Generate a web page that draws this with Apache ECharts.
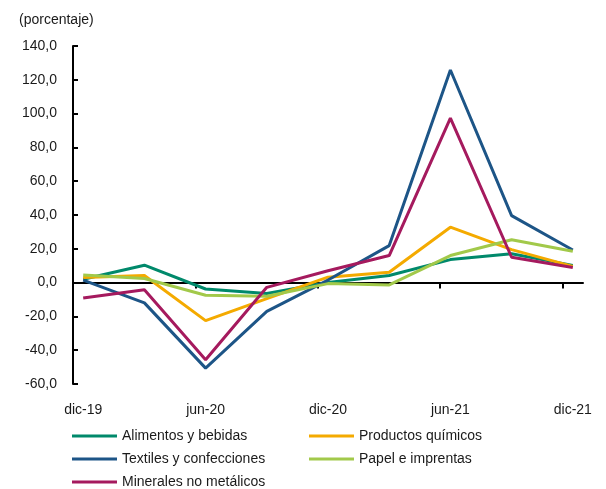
<!DOCTYPE html>
<html>
<head>
<meta charset="utf-8">
<script src="https://cdn.jsdelivr.net/npm/echarts@6/dist/echarts.min.js"></script>
<style>
  html, body { margin: 0; padding: 0; background: #fff; }
  #chart { width: 606px; height: 489px; }
</style>
</head>
<body>
<div id="chart"></div>
<script>
// meses del eje (base mensual, etiquetas cada 6 meses)
var months = ['dic-19','ene-20','feb-20','mar-20','abr-20','may-20','jun-20','jul-20','ago-20','sep-20','oct-20','nov-20',
  'dic-20','ene-21','feb-21','mar-21','abr-21','may-21','jun-21','jul-21','ago-21','sep-21','oct-21','nov-21','dic-21'];
// trimestres con dato
var quarters = ['dic-19','mar-20','jun-20','sep-20','dic-20','mar-21','jun-21','sep-21','dic-21'];

var alimentos  = [2.0, 10.3, -3.8, -6.5, 0.0, 4.2, 13.6, 17.1, 10.2];
var quimicos   = [3.0, 4.2, -22.5, -9.5, 3.2, 6.1, 32.8, 19.5, 9.6];
var textiles   = [1.5, -12.0, -50.6, -17.0, 1.5, 21.9, 125.8, 39.6, 19.3];
var papel      = [4.5, 2.4, -7.5, -8.1, -0.6, -1.4, 16.0, 25.4, 18.5];
var minerales  = [-9.1, -4.2, -45.7, -2.8, 7.0, 16.0, 97.3, 15.0, 8.9];

function toMonthly(vals) {
  return months.map(function (m) {
    var i = quarters.indexOf(m);
    return i >= 0 ? vals[i] : null;
  });
}

var font = 'Liberation Sans';

function mkSeries(name, vals, color) {
  return {
    name: name,
    type: 'line',
    data: toMonthly(vals),
    connectNulls: true,
    symbol: 'none',
    lineStyle: { width: 3, color: color },
    itemStyle: { color: color }
  };
}

function mkLegend(names, left) {
  return {
    data: names,
    orient: 'vertical',
    left: left, top: 429,
    padding: 0,
    icon: 'rect',
    itemWidth: 45, itemHeight: 3, itemGap: 9,
    textStyle: { fontFamily: font, fontSize: 14, color: '#1a1a1a', lineHeight: 14 }
  };
}

var option = {
  animation: false,
  title: {
    text: '(porcentaje)',
    left: 14,
    top: 8,
    textStyle: { fontFamily: font, fontSize: 14, fontWeight: 'normal', color: '#1a1a1a' }
  },
  grid: { left: 73, right: 23, top: 46, bottom: 105 },
  legend: [
    mkLegend(['Alimentos y bebidas', 'Textiles y confecciones', 'Minerales no metálicos'], 72),
    mkLegend(['Productos químicos', 'Papel e imprentas'], 309)
  ],
  xAxis: [
    {
      type: 'category',
      data: months,
      boundaryGap: true,
      position: 'bottom',
      axisLine: { show: false, onZero: false },
      axisTick: { show: false },
      axisLabel: { interval: 5, margin: 19, fontFamily: font, fontSize: 14, color: '#1a1a1a' },
      splitLine: { show: false }
    },
    {
      // eje en cero: marcas cada 6 meses (límites de mes)
      type: 'value',
      min: 0,
      max: months.length,
      position: 'top',
      axisLine: { show: true, onZero: true, lineStyle: { color: '#000', width: 2 } },
      axisTick: { show: true, inside: true, length: 6, customValues: [6, 12, 18, 24], lineStyle: { color: '#000', width: 2 } },
      axisLabel: { show: false },
      splitLine: { show: false }
    }
  ],
  yAxis: {
    type: 'value',
    min: -60,
    max: 140,
    interval: 20,
    axisLine: { show: true, lineStyle: { color: '#000', width: 2 } },
    axisTick: { show: true, inside: true, length: 5, lineStyle: { color: '#000', width: 2 } },
    axisLabel: {
      margin: 16,
      fontFamily: font,
      fontSize: 14,
      color: '#1a1a1a',
      formatter: function (v) { return v.toFixed(1).replace('.', ','); }
    },
    splitLine: { show: false }
  },
  series: [
    mkSeries('Alimentos y bebidas', alimentos, '#00896B'),
    mkSeries('Productos químicos', quimicos, '#F4AA00'),
    mkSeries('Textiles y confecciones', textiles, '#1D5587'),
    mkSeries('Papel e imprentas', papel, '#A2C94A'),
    mkSeries('Minerales no metálicos', minerales, '#A51A5E')
  ]
};

var chart = echarts.init(document.getElementById('chart'));
chart.setOption(option);
</script>
</body>
</html>
